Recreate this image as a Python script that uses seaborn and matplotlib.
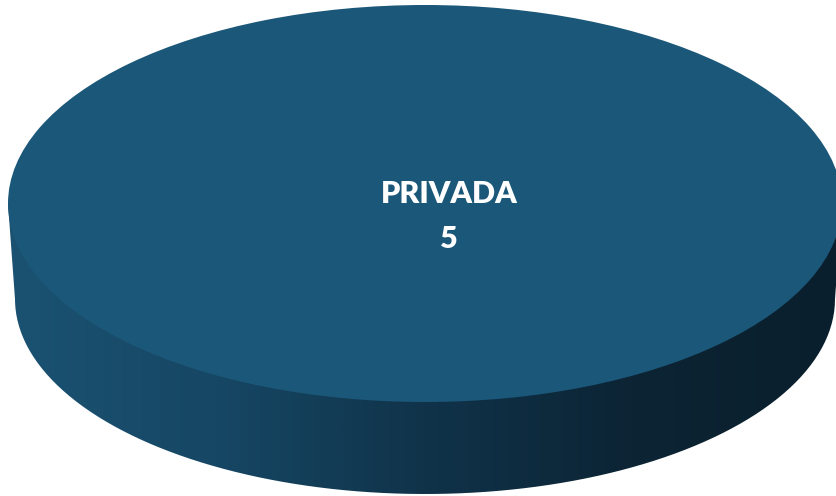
import numpy as np
import seaborn as sns
import matplotlib
matplotlib.use("Agg")
import matplotlib.pyplot as plt
from matplotlib.path import Path
from matplotlib.patches import PathPatch
from matplotlib.transforms import Affine2D

# data
categories = ["PRIVADA"]
values = [5]

top_color = "#1b5778"
side_colors = ["#1b5272", "#164764", "#10334a", "#0c2434", "#0a1f2d"]

sns.set_theme(style="white")
plt.rcParams['font.family'] = ['Lato', 'DejaVu Sans']

fig = plt.figure(figsize=(8.37, 4.96), dpi=100)
ax = fig.add_axes([0, 0, 1, 1])

# geometry of the 3d disc (pixel units)
cx, cy, a, b = 425, 203.5, 417, 198.5
bcx, bcy, ba, bb = 425, 299, 410, 195

# side wall: gradient clipped to the outline of both ellipses
t1 = np.linspace(np.pi, 2 * np.pi, 200)
t2 = np.linspace(0, np.pi, 200)
upper = np.column_stack([cx + a * np.cos(t1), cy + b * np.sin(t1)])
lower = np.column_stack([bcx + ba * np.cos(t2), bcy + bb * np.sin(t2)])
outline = np.vstack([upper, lower, upper[:1]])
clip = PathPatch(Path(outline), facecolor="none", edgecolor="none")
ax.add_patch(clip)

side_cmap = sns.blend_palette(side_colors, as_cmap=True)
grad = np.linspace(0, 1, 512).reshape(1, -1)
img = ax.imshow(grad, cmap=side_cmap, aspect="auto",
                extent=(cx - a, cx + a, bcy + bb, cy), zorder=1)
img.set_clip_path(clip)

# top face: the pie itself, squashed into an ellipse
wedges, _ = ax.pie(values, colors=[top_color], radius=1, center=(0, 0),
                   startangle=90, counterclock=False,
                   wedgeprops=dict(linewidth=0))
squash = Affine2D().scale(a, b).translate(cx, cy) + ax.transData
for w in wedges:
    w.set_transform(squash)
    w.set_zorder(2)

ax.text(449, 203, categories[0], color="white", fontsize=22,
        fontweight="heavy", ha="center", va="baseline", zorder=3)
ax.text(449, 248, str(values[0]), color="white", fontsize=22,
        fontweight="heavy", ha="center", va="baseline", zorder=3)

ax.set_aspect("auto")
ax.set_xlim(0, 837)
ax.set_ylim(496, 0)
ax.axis("off")

fig.savefig("out.png", dpi=100, facecolor="white")
